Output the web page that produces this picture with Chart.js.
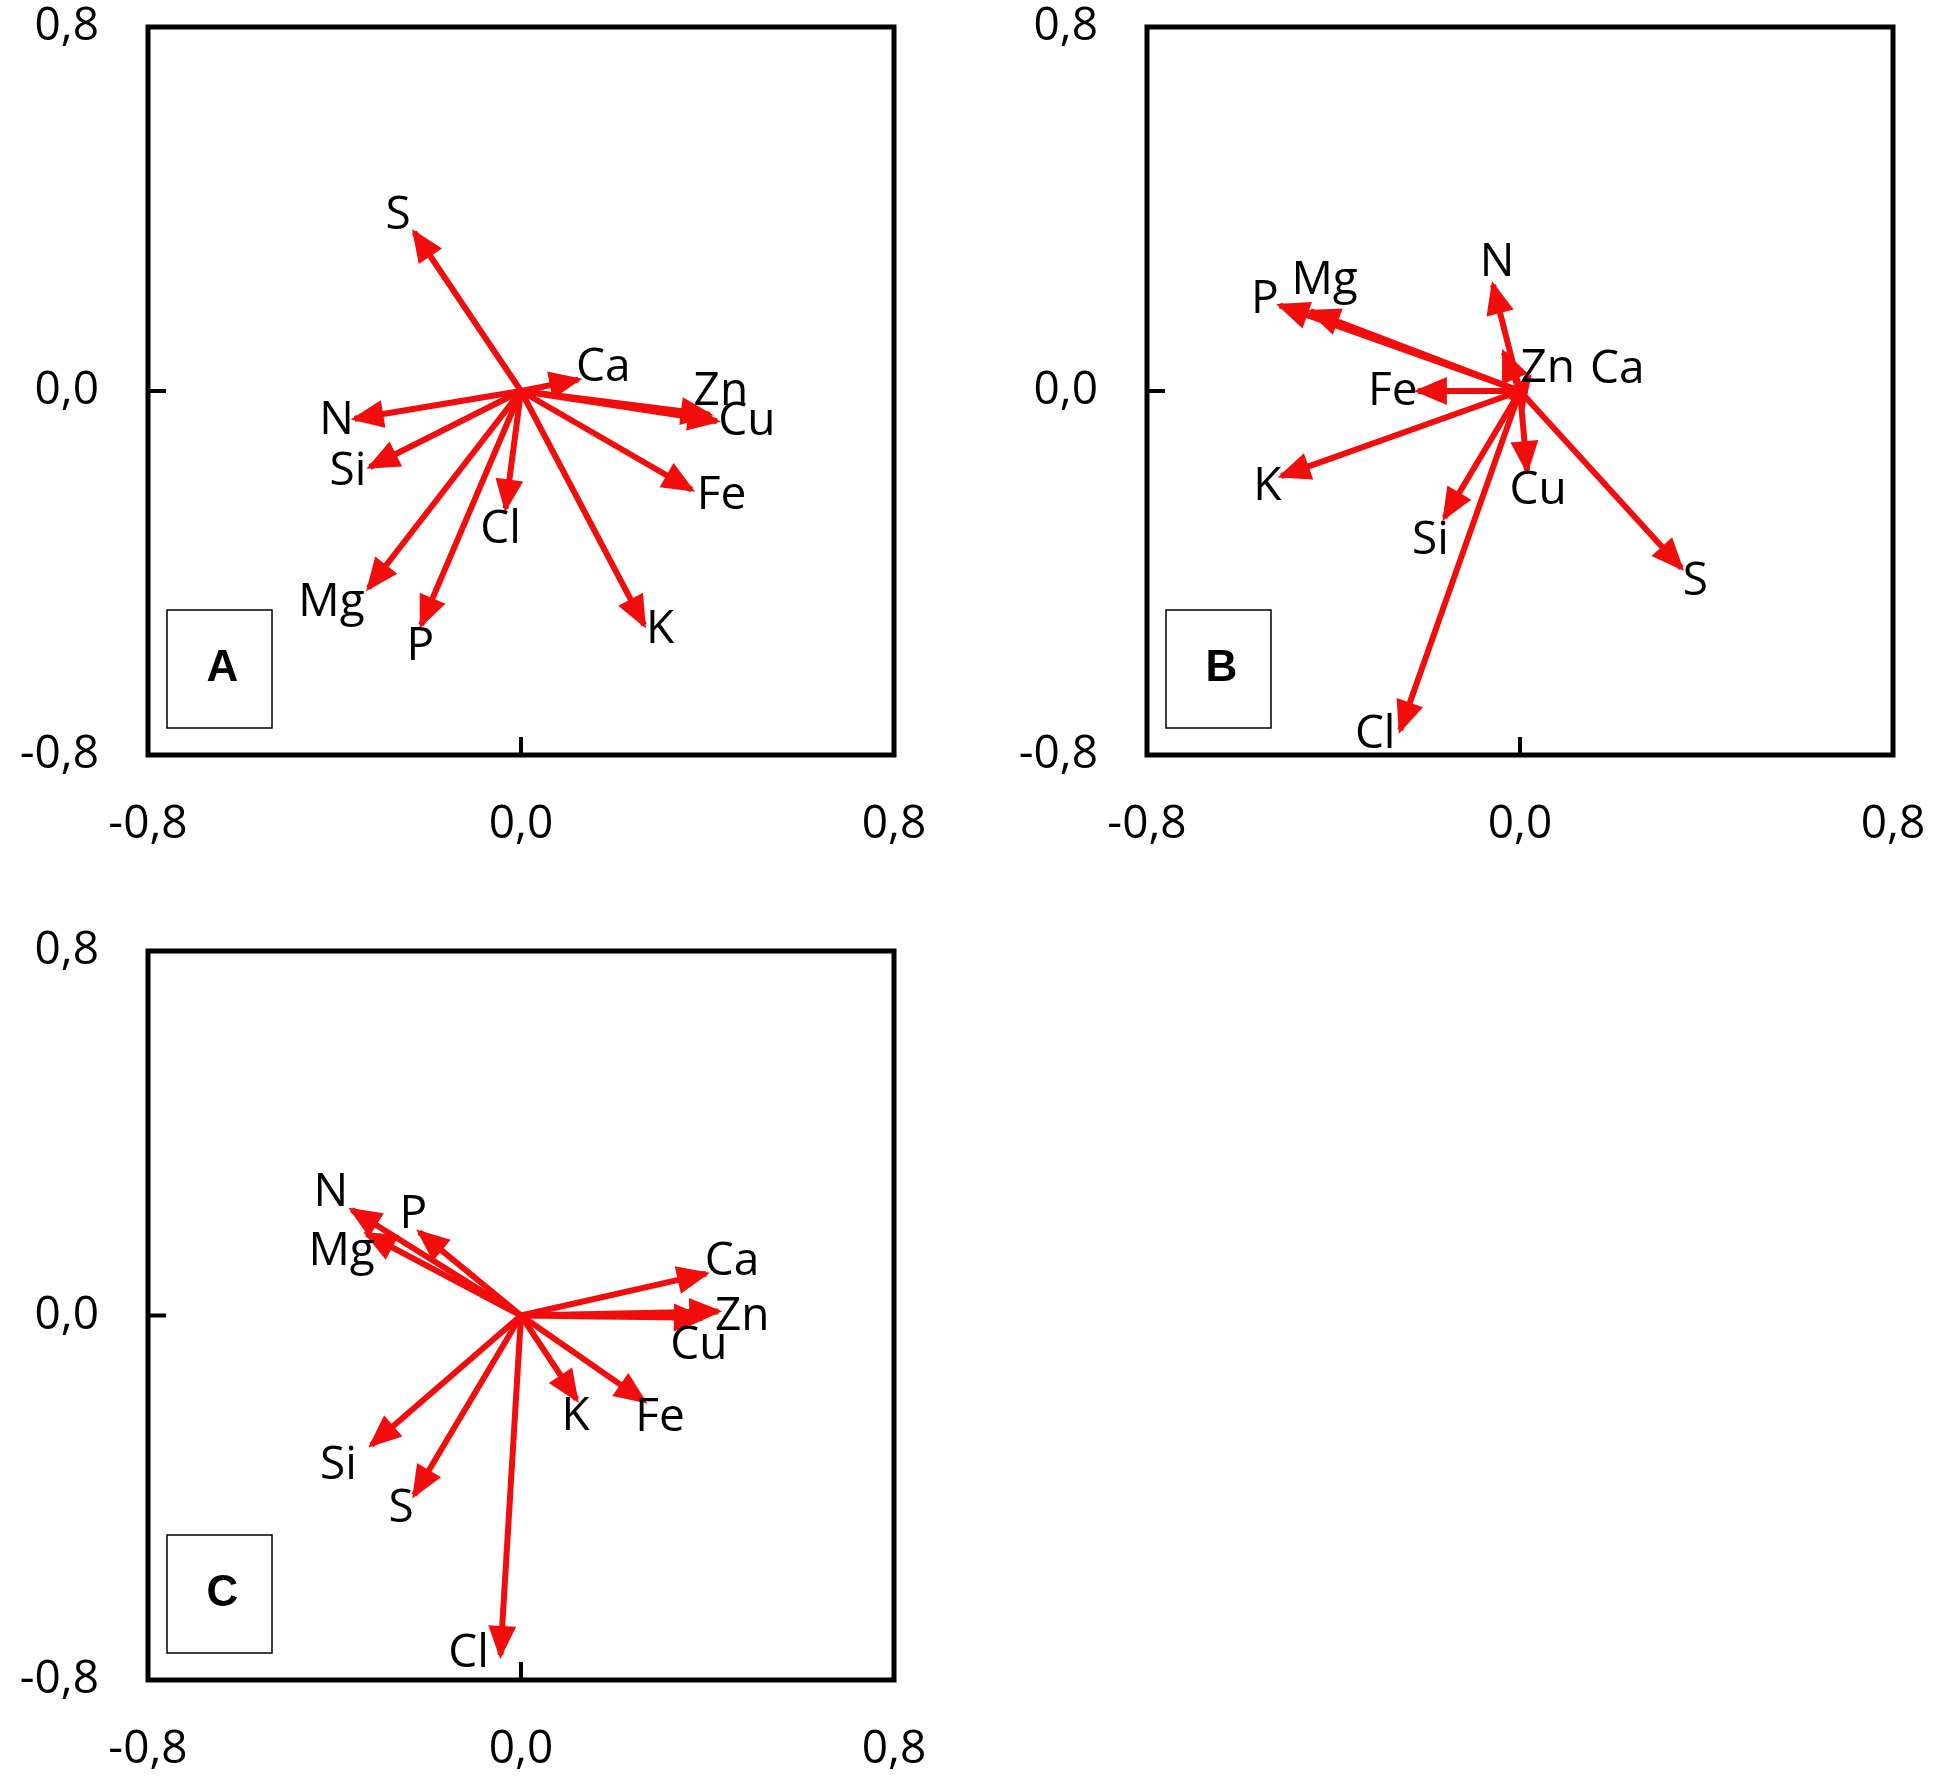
<!DOCTYPE html>
<html>
<head>
<meta charset="utf-8">
<script src="https://cdn.jsdelivr.net/npm/chart.js@4.4.0/dist/chart.umd.min.js"></script>
<style>
  html, body { margin: 0; padding: 0; background: #fff; }
  body { width: 1934px; height: 1784px; position: relative; overflow: hidden; }
  canvas { position: absolute; }
</style>
</head>
<body>
<canvas id="panelA" width="967" height="892" style="left:0;top:0"></canvas>
<canvas id="panelB" width="967" height="892" style="left:967px;top:0"></canvas>
<canvas id="panelC" width="967" height="892" style="left:0;top:892px"></canvas>
<script>
// Axis ticks (both axes, all panels)
const tickValues = [-0.8, 0, 0.8];

// Element vectors, same order in every panel
const elements = ['N', 'P', 'K', 'Ca', 'Mg', 'S', 'Cl', 'Si', 'Fe', 'Zn', 'Cu'];

// Panel A loadings
const aX = [-0.357, -0.214, 0.264, 0.123, -0.327, -0.229, -0.033, -0.324, 0.366, 0.405, 0.420];
const aY = [-0.061, -0.514, -0.514, 0.025, -0.433, 0.349, -0.258, -0.167, -0.217, -0.052, -0.066];

// Panel B loadings
const bX = [-0.058, -0.515, -0.512, 0.020, -0.449, 0.346, -0.257, -0.162, -0.219, -0.035, 0.015];
const bY = [0.233, 0.188, -0.187, 0.030, 0.175, -0.389, -0.745, -0.278, 0.000, 0.085, -0.174];

// Panel C loadings
const cX = [-0.363, -0.218, 0.119, 0.397, -0.331, -0.229, -0.044, -0.321, 0.264, 0.423, 0.390];
const cY = [0.232, 0.183, -0.184, 0.092, 0.179, -0.394, -0.745, -0.284, -0.188, 0.009, -0.005];

// Label offsets from arrow tips (px)
const offA = [[-18, 2], [-1, 22], [16, 5], [25, -12], [-37, 15], [-16, -16], [-5, 22], [-22, 5], [30, 6], [11, -23], [30, 1]];
const offB = [[4, -22], [-15, -6], [-14, 11], [88, -7], [14, -30], [14, 14], [-25, 5], [-14, 23], [-25, 1], [44, 17], [11, 21]];
const offC = [[-21, -17], [-6, -17], [-1, 18], [26, -12], [-25, 18], [-13, 14], [-32, -1], [-33, 21], [16, 17], [24, 5], [-4, 28]];

const RED = '#f20d0d';
const FONT = "'Open Sans', 'DejaVu Sans', sans-serif";

// Frame, zero ticks, arrowheads, element labels and panel letter
const biplotPlugin = {
    id: 'biplot',
    afterDatasetsDraw(chart, args, opts) {
        const { ctx, chartArea: a, scales: { x, y } } = chart;
        const x0 = x.getPixelForValue(0);
        const y0 = y.getPixelForValue(0);
        ctx.save();

        // arrowheads + labels
        chart.data.datasets.forEach((ds, i) => {
            const tip = ds.data[1];
            const px = x.getPixelForValue(tip.x);
            const py = y.getPixelForValue(tip.y);
            const ang = Math.atan2(py - y0, px - x0);
            const tx = px + Math.cos(ang) * 4, ty = py + Math.sin(ang) * 4;
            const len = 33, half = 14;
            const bx = tx - Math.cos(ang) * len, by = ty - Math.sin(ang) * len;
            ctx.fillStyle = RED;
            ctx.beginPath();
            ctx.moveTo(tx, ty);
            ctx.lineTo(bx + Math.sin(ang) * half, by - Math.cos(ang) * half);
            ctx.lineTo(bx - Math.sin(ang) * half, by + Math.cos(ang) * half);
            ctx.closePath();
            ctx.fill();

            const off = opts.offsets[i];
            ctx.fillStyle = '#000';
            ctx.font = '46px ' + FONT;
            ctx.textAlign = 'center';
            ctx.textBaseline = 'middle';
            ctx.fillText(ds.label, px + off[0], py + off[1]);
        });

        // frame
        ctx.strokeStyle = '#000';
        ctx.lineWidth = 5;
        ctx.strokeRect(a.left, a.top, a.right - a.left, a.bottom - a.top);

        // inward ticks at zero
        ctx.lineWidth = 4;
        ctx.beginPath();
        ctx.moveTo(a.left, y0); ctx.lineTo(a.left + 18, y0);
        ctx.moveTo(x0, a.bottom); ctx.lineTo(x0, a.bottom - 18);
        ctx.stroke();

        // panel letter box
        const bl = a.left + 19, bt = a.bottom - 145, bw = 105, bh = 118;
        ctx.lineWidth = 1.5;
        ctx.strokeRect(bl, bt, bw, bh);
        ctx.fillStyle = '#000';
        ctx.font = "bold 44px 'Liberation Sans', Arial, sans-serif";
        ctx.textAlign = 'center';
        ctx.textBaseline = 'middle';
        ctx.fillText(opts.letter, bl + bw / 2 + 3, bt + bh / 2);
        ctx.restore();
    }
};

function fmt(v) {
    return v.toFixed(1).replace('.', ',');
}

function makePanel(id, xs, ys, offsets, letter, area) {
    const datasets = elements.map((name, i) => ({
        label: name,
        data: [{ x: 0, y: 0 }, { x: xs[i], y: ys[i] }],
        showLine: true,
        borderColor: RED,
        borderWidth: 6,
        pointRadius: 0,
        fill: false
    }));
    const axis = (fit, pad) => ({
        type: 'linear',
        min: -0.8,
        max: 0.8,
        grid: { display: false, drawTicks: false },
        border: { display: false },
        afterBuildTicks: s => { s.ticks = tickValues.map(v => ({ value: v })); },
        afterFit: s => {
            fit(s);
            // keep the plot area exactly where the layout puts it
            s.paddingTop = 0; s.paddingBottom = 0;
            s.paddingLeft = 0; s.paddingRight = 0;
        },
        ticks: {
            padding: pad,
            color: '#000',
            font: { family: FONT, size: 46 },
            callback: v => fmt(v)
        }
    });
    return new Chart(document.getElementById(id), {
        type: 'scatter',
        data: { datasets },
        options: {
            responsive: false,
            animation: false,
            devicePixelRatio: 1,
            layout: { padding: { top: area.top, right: area.right, left: 0, bottom: 0 } },
            scales: {
                x: axis(s => { s.height = area.bottom; }, 42),
                y: axis(s => { s.width = area.left; }, 49)
            },
            plugins: {
                legend: { display: false },
                tooltip: { enabled: false },
                biplot: { offsets, letter }
            }
        },
        plugins: [biplotPlugin]
    });
}

makePanel('panelA', aX, aY, offA, 'A', { left: 148, top: 27, right: 73, bottom: 137 });
makePanel('panelB', bX, bY, offB, 'B', { left: 180, top: 27, right: 41, bottom: 137 });
makePanel('panelC', cX, cY, offC, 'C', { left: 148, top: 59, right: 73, bottom: 104 });
</script>
</body>
</html>
